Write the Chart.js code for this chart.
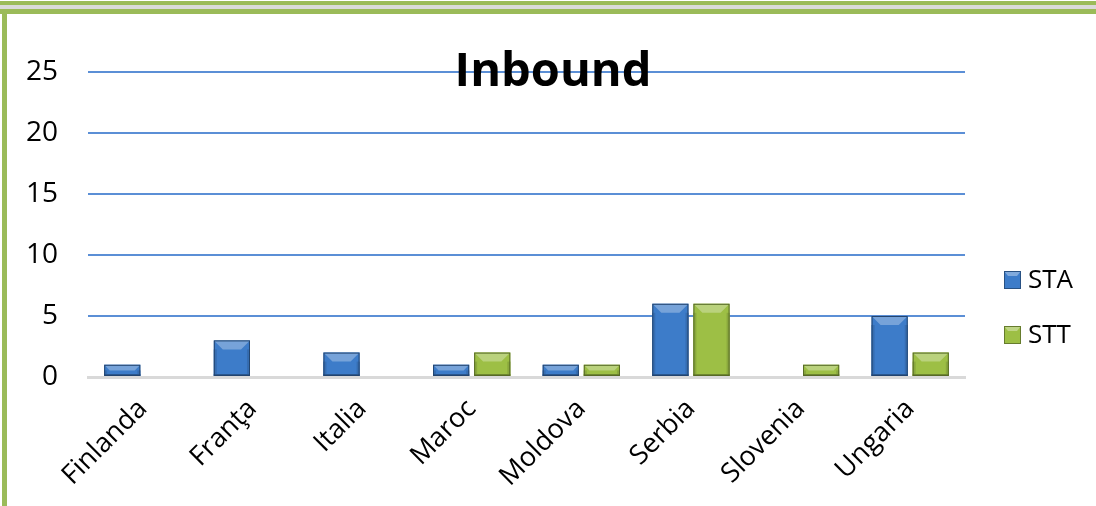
<!DOCTYPE html>
<html><head><meta charset="utf-8">
<script src="https://cdn.jsdelivr.net/npm/chart.js@4"></script>
<style>html,body{margin:0;padding:0;background:#fff;}#wrap{width:1096px;height:506px;position:relative;}</style>
</head><body><div id="wrap"><canvas id="c" width="1096" height="506"></canvas></div>
<script>
const categories = ["Finlanda","Franţa","Italia","Maroc","Moldova","Serbia","Slovenia","Ungaria"];
const staValues = [1,3,2,1,1,6,0,5];
const sttValues = [0,0,0,2,1,6,1,2];
const seriesNames = ["STA","STT"];
const yTicks = [0,5,10,15,20,25];
const titleText = "Inbound";

const FONT = "'Open Sans', sans-serif";
const BLUE = "#3D7CC9", GREEN = "#9DBF45";

function shade(hex, f){
  const n=parseInt(hex.slice(1),16);let r=n>>16,g=(n>>8)&255,b=n&255;
  if(f>0){r+= (255-r)*f; g+=(255-g)*f; b+=(255-b)*f;} else {r*=1+f; g*=1+f; b*=1+f;}
  return `rgb(${Math.round(r)},${Math.round(g)},${Math.round(b)})`;
}

const framePlugin = {
  id:'frame',
  beforeDraw(chart){
    const ctx=chart.ctx;ctx.save();
    ctx.fillStyle='#fff';ctx.fillRect(0,0,chart.width,chart.height);
    ctx.fillStyle='#DADADA';ctx.fillRect(0,5,chart.width,4);
    ctx.fillStyle='#9BBB59';
    ctx.fillRect(0,1,chart.width,4);
    ctx.fillRect(0,9,chart.width,5);
    ctx.fillRect(2,9,5,chart.height-9);
    ctx.restore();
  },
  afterDraw(chart){
    const ctx=chart.ctx;ctx.save();
    ctx.font="bold 47px "+FONT;ctx.fillStyle='#000';ctx.textAlign='center';ctx.textBaseline='alphabetic';
    ctx.fillText(titleText,553,86);
    chart.data.datasets.forEach((ds,i)=>{
      const y=[280,335][i];
      const x=1004,w=17,h=18;
      const base=ds.backgroundColor;
      ctx.fillStyle=base;ctx.fillRect(x,y-h/2,w,h);
      ctx.fillStyle=shade(base,0.35);
      ctx.beginPath();ctx.moveTo(x,y-h/2);ctx.lineTo(x+w,y-h/2);ctx.lineTo(x+w-4,y-h/2+5);ctx.lineTo(x+4,y-h/2+5);ctx.closePath();ctx.fill();
      ctx.strokeStyle=shade(base,-0.35);ctx.lineWidth=1;ctx.strokeRect(x+0.5,y-h/2+0.5,w-1,h-1);
      ctx.font="26px "+FONT;ctx.fillStyle='#000';ctx.textAlign='left';ctx.textBaseline='middle';
      ctx.fillText(ds.label,x+24,y+1);
    });
    ctx.restore();
  },
  afterDatasetsDraw(chart){
    const ctx=chart.ctx;ctx.save();
    chart.data.datasets.forEach((ds,di)=>{
      const meta=chart.getDatasetMeta(di);
      meta.data.forEach(el=>{
        const {x,y,base,width}=el.getProps(['x','y','base','width'],true);
        const h=base-y; if(h<=0.5) return;
        const l=x-width/2,r=x+width/2;
        const bv=Math.min(9,h/2);
        const c=ds.backgroundColor;
        ctx.fillStyle=shade(c,0.3);
        ctx.beginPath();ctx.moveTo(l,y);ctx.lineTo(r,y);ctx.lineTo(r-bv,y+bv);ctx.lineTo(l+bv,y+bv);ctx.closePath();ctx.fill();
        ctx.fillStyle=shade(c,-0.12);
        ctx.fillRect(l,y+bv,3,h-bv);ctx.fillRect(r-3,y+bv,3,h-bv);
        ctx.fillStyle=shade(c,-0.3);
        ctx.fillRect(l,base-2,width,2);
        ctx.strokeStyle=shade(c,-0.45);ctx.lineWidth=1;ctx.strokeRect(l+0.5,y+0.5,width-1,h-1);
      });
    });
    ctx.restore();
  }
};

new Chart(document.getElementById('c'),{
  type:'bar',
  data:{labels:categories,datasets:[
    {label:seriesNames[0],data:staValues,backgroundColor:BLUE,categoryPercentage:0.75,barPercentage:0.88},
    {label:seriesNames[1],data:sttValues,backgroundColor:GREEN,categoryPercentage:0.75,barPercentage:0.88}
  ]},
  options:{
    responsive:false,animation:false,
    layout:{padding:{left:8,right:131,top:72,bottom:0}},
    plugins:{legend:{display:false},title:{display:false},tooltip:{enabled:false}},
    scales:{
      x:{
        grid:{display:false,drawTicks:false},
        border:{display:true,color:'#D9D9D9',width:3},
        ticks:{font:{family:FONT,size:27},color:'#000',maxRotation:45,minRotation:45,padding:16},
        afterFit(s){s.height=129;}
      },
      y:{
        min:0,max:25,
        afterBuildTicks(s){s.ticks=yTicks.map(v=>({value:v}));},
        grid:{color:(c)=>c.tick.value===0?'rgba(0,0,0,0)':'#5B8FD6',lineWidth:2,drawTicks:false},
        border:{display:false},
        ticks:{font:{family:FONT,size:28},color:'#000',padding:30},
        afterFit(s){s.width=80;}
      }
    }
  },
  plugins:[framePlugin]
});
</script></body></html>
